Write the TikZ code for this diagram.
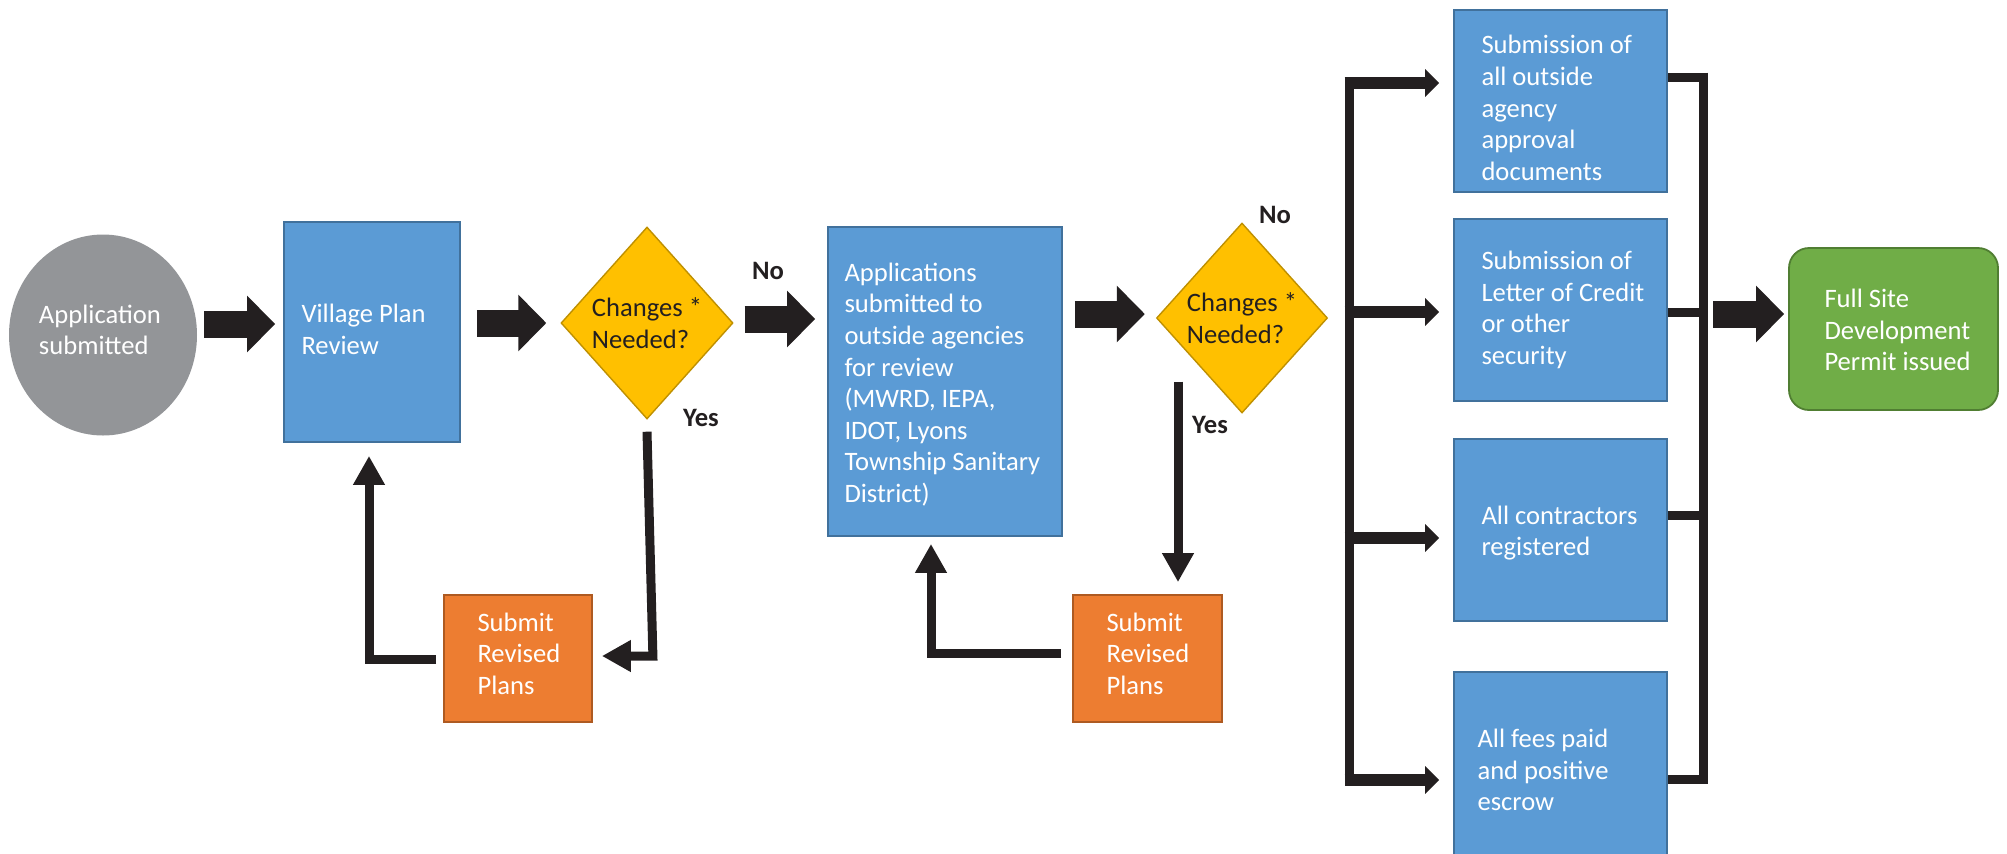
\documentclass[tikz,border=0pt]{standalone}
\usepackage{fontspec}
\setmainfont{Carlito}
\usetikzlibrary{shapes.geometric,arrows.meta,calc}
\definecolor{cgray}{HTML}{939598}
\definecolor{cblue}{HTML}{5B9BD5}
\definecolor{cbluedk}{HTML}{41719C}
\definecolor{corange}{HTML}{ED7D31}
\definecolor{corangedk}{HTML}{AE5A21}
\definecolor{cyellow}{HTML}{FFC000}
\definecolor{cyellowdk}{HTML}{BF9000}
\definecolor{cgreen}{HTML}{70AD47}
\definecolor{cgreendk}{HTML}{507E32}
\definecolor{cblack}{HTML}{231F20}
\begin{document}
\begin{tikzpicture}[x=0.5pt,y=-0.5pt,
  every node/.style={font=\fontsize{13.3}{15.8}\selectfont},
  bluebox/.style={draw=cbluedk,line width=0.9pt,fill=cblue,rectangle,inner sep=0pt},
  orangebox/.style={draw=corangedk,line width=0.9pt,fill=corange,rectangle,inner sep=0pt},
  greenbox/.style={draw=cgreendk,line width=0.9pt,fill=cgreen,rectangle,rounded corners=10pt,inner sep=0pt},
  decision/.style={diamond,draw=cyellowdk,line width=0.7pt,fill=cyellow,inner sep=0pt,align=left,text=cblack},
  wtext/.style={text=white,align=left,inner sep=0pt,anchor=west},
  yn/.style={font=\fontsize{13.3}{15.8}\selectfont\bfseries,text=cblack,inner sep=0pt},
  blk/.style={draw=cblack,line width=13.5pt,-{Triangle[length=14pt,width=27.5pt]}},
  fb/.style={draw=cblack,line width=4.5pt,line join=miter,-{Triangle[length=14.5pt,width=15pt]}},
  busarrow/.style={draw=cblack,line width=6pt,-{Triangle[length=7pt,width=13.5pt]}},
  busline/.style={draw=cblack,line width=4.5pt},
]
\useasboundingbox (0,0) rectangle (2007,853);

% y levels of the block arrows
\coordinate (ya) at (0,324);
\coordinate (yb) at (0,323);
\coordinate (yc) at (0,319);
\coordinate (yd) at (0,314);

% nodes
\node[ellipse,fill=cgray,minimum width=94pt,minimum height=100.5pt,inner sep=0pt] (app) at (103,335) {};
\node[wtext] (appt) at ($(app.west)+(30,-5)$) {Application\\submitted};

\node[bluebox,minimum width=88pt,minimum height=110pt] (vpr) at (372,332) {};
\node[wtext] (vprt) at ($(vpr.west)+(18,-2.5)$) {Village Plan\\Review};

\node[decision,minimum width=86pt,minimum height=96pt] (d1) at (647,323) {Changes *\\Needed?};
\node[yn] (no1) at (768,271) {No};
\node[yn] (yes1) at (701,418) {Yes};

\node[bluebox,minimum width=117pt,minimum height=154.5pt] (apps) at (945,381.5) {};
\node[wtext] (appst) at ($(apps.west)+(17,3)$) {Applications\\submitted to\\outside agencies\\for review\\(MWRD, IEPA,\\IDOT, Lyons\\Township Sanitary\\District)};

\node[orangebox,minimum width=74pt,minimum height=63.5pt] (rev1) at (518,658.5) {};
\node[wtext] (rev1t) at ($(rev1.west)+(34,-5)$) {Submit\\Revised\\Plans};

\node[decision,minimum width=85.5pt,minimum height=95pt] (d2) at (1242,318) {Changes *\\Needed?};
\node[yn] (no2) at (1275,215) {No};
\node[yn] (yes2) at (1210,425) {Yes};

\node[orangebox,minimum width=74.5pt,minimum height=63.5pt] (rev2) at (1147.5,658.5) {};
\node[wtext] (rev2t) at ($(rev2.west)+(34,-5)$) {Submit\\Revised\\Plans};

\node[bluebox,minimum width=106.5pt,minimum height=91pt] (b1) at (1560.5,101) {};
\node[wtext] (b1t) at ($(b1.west)+(28,7)$) {Submission of\\all outside\\agency\\approval\\documents};
\node[bluebox,minimum width=106.5pt,minimum height=91pt] (b2) at (1560.5,310) {};
\node[wtext] (b2t) at ($(b2.west)+(28,0)$) {Submission of\\Letter of Credit\\or other\\security};
\node[bluebox,minimum width=106.5pt,minimum height=91pt] (b3) at (1560.5,530) {};
\node[wtext] (b3t) at ($(b3.west)+(28,3)$) {All contractors\\registered};
\node[bluebox,minimum width=106.5pt,minimum height=99pt] (b4) at (1560.5,771) {};
\node[wtext] (b4t) at ($(b4.west)+(24,-1)$) {All fees paid\\and positive\\escrow};

\node[greenbox,minimum width=104.5pt,minimum height=81pt] (fin) at (1893.5,329) {};
\node[wtext] (fint) at ($(fin.west)+(36,1)$) {Full Site\\Development\\Permit issued};

% block arrows
\draw[blk] ($(app.east|-ya)+(7,0)$) -- ($(vpr.west|-ya)+(-8,0)$);
\draw[blk] ($(vpr.east|-yb)+(16,0)$) -- ($(d1.west|-yb)+(-14,0)$);
\draw[blk] ($(d1.east|-yc)+(11,0)$) -- ($(apps.west|-yc)+(-12,0)$);
\draw[blk] ($(apps.east|-yd)+(12,0)$) -- ($(d2.west|-yd)+(-11,0)$);

% feedback loop 1
\coordinate (c1) at ($(vpr.south)+(-3,13)$);
\draw[fb] ($(d1.south)+(0,12)$) -- ($(rev1.east|-0,656)+(60,0)$) -- ($(rev1.east|-0,656)+(9,0)$);
\draw[fb] ($(rev1.west|-0,659)+(-7,0)$) -| (c1);

% feedback loop 2
\coordinate (c2) at ($(apps.south)+(-14,7)$);
\draw[fb] ($(d2.south)+(-64,-32)$) -- ($(rev2.north)+(30.5,-12)$);
\draw[fb] ($(rev2.west|-0,653)+(-11,0)$) -| (c2);

% left bus
\coordinate (L1) at (1349,83);
\coordinate (L2) at (1349,312);
\coordinate (L3) at (1349,538);
\coordinate (L4) at (1349,780);
\draw[busline] ($(L1)+(0,-6)$) -- ($(L4)+(0,6)$);
\draw[busarrow] ($(L1)+(-4.5,0)$) -- ($(b1.west|-L1)+(-14,0)$);
\draw[busarrow] ($(L2)+(-4.5,0)$) -- ($(b2.west|-L2)+(-14,0)$);
\draw[busarrow] ($(L3)+(-4.5,0)$) -- ($(b3.west|-L3)+(-14,0)$);
\draw[busarrow] ($(L4)+(-4.5,0)$) -- ($(b4.west|-L4)+(-14,0)$);

% right bus
\coordinate (R1) at (1703,77);
\coordinate (R2) at (1703,312);
\coordinate (R3) at (1703,515);
\coordinate (R4) at (1703,779);
\draw[busline] ($(R1)+(0,-4.5)$) -- ($(R4)+(0,4.5)$);
\draw[busline] (b1.east|-R1) -- ($(R1)+(4.5,0)$);
\draw[busline] (b2.east|-R2) -- ($(R2)+(4.5,0)$);
\draw[busline] (b3.east|-R3) -- ($(R3)+(4.5,0)$);
\draw[busline] (b4.east|-R4) -- ($(R4)+(4.5,0)$);

\draw[blk] ($(R2|-yd)+(10,0)$) -- ($(fin.west|-yd)+(-4,0)$);
\end{tikzpicture}
\end{document}
